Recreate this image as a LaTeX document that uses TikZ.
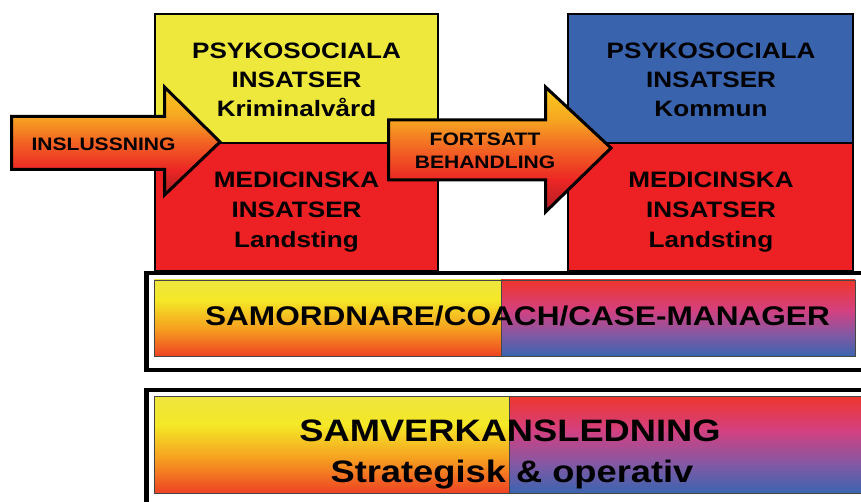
\documentclass[tikz,border=0pt]{standalone}
\usepackage{fontspec}
\newfontfamily\lblfont{Liberation Sans}[FakeStretch=1.17]

\definecolor{boxyellow}{RGB}{238,232,60}
\definecolor{boxred}{RGB}{237,32,36}
\definecolor{boxblue}{RGB}{58,99,173}
% arrow gradient stops
\definecolor{arA}{RGB}{249,205,28}
\definecolor{arB}{RGB}{246,165,33}
\definecolor{arC}{RGB}{242,98,35}
\definecolor{arD}{RGB}{236,38,36}
\definecolor{arE}{RGB}{168,28,38}
% warm band gradient stops
\definecolor{wmA}{RGB}{239,229,62}
\definecolor{wmB}{RGB}{244,232,38}
\definecolor{wmC}{RGB}{246,155,32}
\definecolor{wmD}{RGB}{238,66,35}
% cool band gradient stops
\definecolor{clA}{RGB}{238,54,44}
\definecolor{clB}{RGB}{212,64,128}
\definecolor{clC}{RGB}{128,89,165}
\definecolor{clD}{RGB}{58,100,175}
\definecolor{bandedge}{RGB}{70,70,70}

\tikzset{
  sectionbox/.style={draw=black, line width=1.8pt},
  arrowedge/.style={draw=black, line width=3pt, line join=miter},
  frameline/.style={draw=black, line width=4.8pt},
  bandedgeline/.style={draw=bandedge, line width=0.9pt},
  boxtext/.style={font=\lblfont\bfseries\fontsize{22.3}{26}\selectfont, anchor=base, inner sep=0pt},
  arrowtext/.style={font=\lblfont\bfseries\fontsize{18}{21}\selectfont, anchor=base, inner sep=0pt},
  bandtext/.style={font=\lblfont\bfseries\fontsize{27}{31}\selectfont, anchor=base, inner sep=0pt},
  leadtext/.style={font=\lblfont\bfseries\fontsize{31}{35}\selectfont, anchor=base, inner sep=0pt},
}

\def\inslussningpath{(11.5,116.5) -- (164.5,116.5) -- (164.5,87) -- (220,142) -- (164.5,195) -- (164.5,169.5) -- (11.5,169.5) -- cycle}
\def\fortsattpath{(388.5,120) -- (545.5,120) -- (545.5,87) -- (611,148) -- (545.5,212) -- (545.5,180) -- (388.5,180) -- cycle}

\begin{document}
\begin{tikzpicture}[x=1pt,y=-1pt]
\useasboundingbox (0,0) rectangle (861,502);
\clip (0,0) rectangle (861,502);
\fill[white] (0,0) rectangle (861,502);

% ---- left column: Kriminalvård / Landsting
\fill[boxyellow] (155,14) rectangle (438,143);
\fill[boxred] (155,143) rectangle (438,271);
\draw[sectionbox] (155,14) rectangle (438,271);
\draw[sectionbox] (155,143) -- (438,143);
\node[boxtext] (lpsy) at (296.5,59) {PSYKOSOCIALA};
\node[boxtext] (lins) at (296.5,88) {INSATSER};
\node[boxtext] (lkri) at (296.5,117) {Kriminalvård};
\node[boxtext] (lmed) at (296.5,188) {MEDICINSKA};
\node[boxtext] (lins2) at (296.5,218) {INSATSER};
\node[boxtext] (llan) at (296.5,248) {Landsting};

% ---- right column: Kommun / Landsting
\fill[boxblue] (568,14) rectangle (853,143);
\fill[boxred] (568,143) rectangle (853,271);
\draw[sectionbox] (568,14) rectangle (853,271);
\draw[sectionbox] (568,143) -- (853,143);
\node[boxtext] (rpsy) at (711,59) {PSYKOSOCIALA};
\node[boxtext] (rins) at (711,88) {INSATSER};
\node[boxtext] (rkom) at (711,117) {Kommun};
\node[boxtext] (rmed) at (711,188) {MEDICINSKA};
\node[boxtext] (rins2) at (711,218) {INSATSER};
\node[boxtext] (rlan) at (711,248) {Landsting};

% ---- arrow: INSLUSSNING
\begin{scope}
  \clip \inslussningpath;
  \shade[top color=arA, bottom color=arB] (0,85) rectangle (230,116.8);
  \shade[top color=arB, bottom color=arC] (0,116.5) rectangle (230,142.8);
  \shade[top color=arC, bottom color=arD] (0,142.5) rectangle (230,169.8);
  \shade[top color=arD, bottom color=arE] (0,169.5) rectangle (230,198);
\end{scope}
\draw[arrowedge] \inslussningpath;
\node[arrowtext] (insl) at (103.5,151) {INSLUSSNING};

% ---- arrow: FORTSATT BEHANDLING
\begin{scope}
  \clip \fortsattpath;
  \shade[top color=arA, bottom color=arB] (380,85) rectangle (620,120.3);
  \shade[top color=arB, bottom color=arC] (380,120) rectangle (620,150.3);
  \shade[top color=arC, bottom color=arD] (380,150) rectangle (620,180.3);
  \shade[top color=arD, bottom color=arE] (380,180) rectangle (620,214);
\end{scope}
\draw[arrowedge] \fortsattpath;
\node[arrowtext] (fort) at (485,146) {FORTSATT};
\node[arrowtext] (beh) at (485,169) {BEHANDLING};

% ---- band: SAMORDNARE/COACH/CASE-MANAGER
\draw[frameline] (146.5,273) rectangle (880,370);
\shade[top color=wmA, bottom color=wmB] (154,280) rectangle (501,300.3);
\shade[top color=wmB, bottom color=wmC] (154,300) rectangle (501,330.3);
\shade[top color=wmC, bottom color=wmD] (154,330) rectangle (501,356);
\shade[top color=clA, bottom color=clB] (501,280) rectangle (855,310.3);
\shade[top color=clB, bottom color=clC] (501,310) rectangle (855,335.3);
\shade[top color=clC, bottom color=clD] (501,335) rectangle (855,356);
\draw[bandedgeline] (154,280) rectangle (855,356);
\draw[bandedgeline] (501,280) -- (501,356);
\node[bandtext] (coach) at (517.5,325) {SAMORDNARE/COACH/CASE-MANAGER};

% ---- band: SAMVERKANSLEDNING
\draw[frameline] (146.5,390) rectangle (880,520);
\shade[top color=wmA, bottom color=wmB] (154,396) rectangle (509,425.3);
\shade[top color=wmB, bottom color=wmC] (154,425) rectangle (509,460.3);
\shade[top color=wmC, bottom color=wmD] (154,460) rectangle (509,493);
\shade[top color=clA, bottom color=clB] (509,396) rectangle (870,430.3);
\shade[top color=clB, bottom color=clC] (509,430) rectangle (870,465.3);
\shade[top color=clC, bottom color=clD] (509,465) rectangle (870,493);
\draw[bandedgeline] (154,396) rectangle (870,493);
\draw[bandedgeline] (509,396) -- (509,493);
\node[leadtext] (lead) at (510,441) {SAMVERKANSLEDNING};
\node[leadtext] (leadsub) at (512,482) {Strategisk \& operativ};
\end{tikzpicture}
\end{document}
